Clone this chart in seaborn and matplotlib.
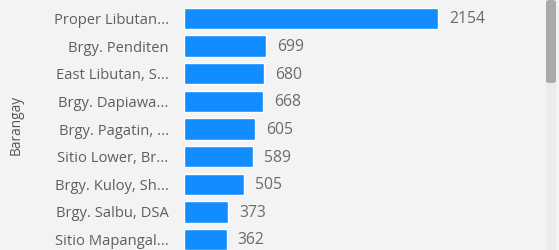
import matplotlib
matplotlib.use("Agg")
import matplotlib.pyplot as plt
import seaborn as sns
import pandas as pd
from matplotlib.patches import FancyBboxPatch

barangays = ["Proper Libutan...", "Brgy. Penditen", "East Libutan, S...", "Brgy. Dapiawa...",
             "Brgy. Pagatin, ...", "Sitio Lower, Br...", "Brgy. Kuloy, Sh...", "Brgy. Salbu, DSA",
             "Sitio Mapangal..."]
counts = [2154, 699, 680, 668, 605, 589, 505, 373, 362]

df = pd.DataFrame({"Barangay": barangays, "Count": counts})

sns.set_theme(style="white")
plt.rcParams['font.family'] = ['Open Sans', 'DejaVu Sans']

W, H = 559, 250
fig = plt.figure(figsize=(W / 100, H / 100), dpi=100)
bg = "#f3f3f3"
fig.patch.set_facecolor(bg)

left_px, right_px = 184, 545
ax = fig.add_axes([left_px / W, 0, (right_px - left_px) / W, 1])
ax.set_facecolor(bg)

sns.barplot(data=df, x="Count", y="Barangay", orient="h", color="#118DFF",
            width=0.77, saturation=1, ax=ax)

scale = 254 / 2154  # px per unit
ax.set_xlim(0, (right_px - left_px) / scale)
pitch = 27.64
ax.set_ylim((250 - 18.5) / pitch, -18.5 / pitch)

for i, v in enumerate(counts):
    ax.text(v + 11 / scale, i + 0.03, str(v), va="center", ha="left",
            fontsize=11.3, color="#6b6b6b")

for s in ax.spines.values():
    s.set_visible(False)
ax.set_xticks([])
ax.set_xlabel("")
ax.tick_params(axis="y", length=0, pad=11, labelsize=10.6, labelcolor="#605e5c")
ax.set_ylabel("")
fig.text(16 / W, 0.5, "Barangay", rotation=90, va="center", ha="center",
         fontsize=9.8, color="#555555")

# scrollbar
track = FancyBboxPatch((546 / W, 0), 10 / W, 1, boxstyle="square,pad=0",
                       transform=fig.transFigure, facecolor="#ececec", edgecolor="none")
fig.patches.append(track)
thumb = FancyBboxPatch((546 / W, 1 - 83 / H), 10 / W, 83 / H,
                       boxstyle="round,pad=0,rounding_size=0.008",
                       transform=fig.transFigure, facecolor="#a9a9a9", edgecolor="none")
fig.patches.append(thumb)

fig.savefig("out.png", dpi=100, facecolor=bg)
